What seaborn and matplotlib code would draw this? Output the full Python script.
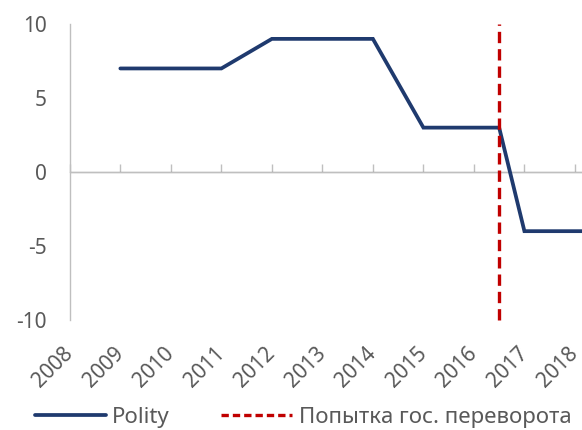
import matplotlib
matplotlib.use('Agg')
import matplotlib.pyplot as plt
import seaborn as sns
from matplotlib.lines import Line2D

# Polity score by year (the 2016.5 point marks the July 2016 coup attempt;
# the series runs on past 2018, beyond the visible area)
years = [2009, 2010, 2011, 2012, 2013, 2014, 2015, 2016, 2016.5, 2017, 2018, 2018.5]
polity = [7, 7, 7, 9, 9, 9, 3, 3, 3, -4, -4, -4]
coup_year = 2016.5
tick_years = list(range(2008, 2019))
y_ticks = [-10, -5, 0, 5, 10]

sns.set_style('white')
plt.rcParams['font.family'] = ['Noto Sans', 'DejaVu Sans']

TEXT = '#595959'
AXIS = '#BFBFBF'
NAVY = '#1F3A6E'
RED = '#C00000'

fig = plt.figure(figsize=(5.82, 4.30), dpi=100)
ax = fig.add_axes([0.120, 0.256, 0.880, 0.688])

sns.lineplot(x=years, y=polity, ax=ax, color=NAVY, linewidth=2.7,
             solid_joinstyle='miter', zorder=3)
ax.vlines(coup_year, -10, 10, colors=RED, linewidth=2.4,
          linestyles=(0, (3.4, 1.8)), zorder=4, clip_on=False)
ax.axhline(0, color=AXIS, linewidth=1, zorder=1)

ax.set_xlim(2008, 2018.14)
ax.set_ylim(-10, 10)

# y axis
ax.set_yticks(y_ticks)
ax.set_yticklabels([str(v) for v in y_ticks])
for s in ['top', 'right', 'bottom']:
    ax.spines[s].set_visible(False)
ax.spines['left'].set_color(AXIS)
ax.spines['left'].set_linewidth(1)
ax.tick_params(axis='y', direction='out', length=5, width=1, color=AXIS,
               labelsize=15, labelcolor=TEXT, pad=11.5)

# x labels at the bottom, tick marks on the zero line
ax.set_xticks(tick_years)
ax.set_xticklabels([str(y) for y in tick_years], rotation=45, ha='right',
                   va='center', rotation_mode='anchor')
ax.tick_params(axis='x', length=0, labelsize=15, labelcolor=TEXT, pad=22)
ax.set_xlabel('')
ax.set_ylabel('')

zero_ax = ax.secondary_xaxis(0.5)
zero_ax.set_xticks(tick_years)
zero_ax.set_xticklabels([])
zero_ax.spines['bottom'].set_visible(False)
zero_ax.tick_params(direction='out', length=6, width=1, color=AXIS)

handles = [
    Line2D([], [], color=NAVY, linewidth=2.7),
    Line2D([], [], color=RED, linewidth=2.4, linestyle=(0, (2.2, 1.2))),
]
fig.legend(handles, ['Polity', 'Попытка гос. переворота'], loc='lower left',
           bbox_to_anchor=(0.025, -0.042), ncol=2, frameon=False, fontsize=16,
           labelcolor=TEXT, handlelength=3.2, handletextpad=0.3,
           columnspacing=2.3)

fig.savefig('out.png', dpi=100)
